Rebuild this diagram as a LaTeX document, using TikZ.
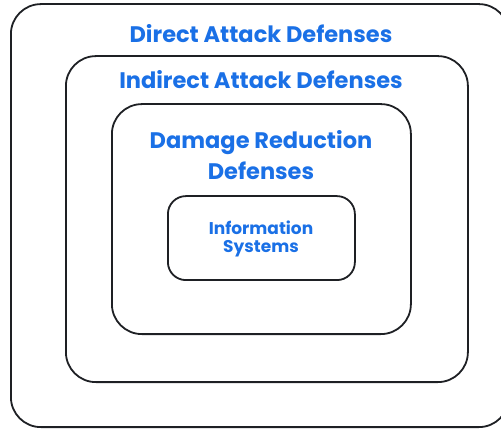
\documentclass[tikz,border=0pt]{standalone}
\usepackage{fontspec}
\setmainfont{Poppins}
\definecolor{labelblue}{RGB}{26,112,230}
\definecolor{frame}{RGB}{30,32,36}
\begin{document}
\begin{tikzpicture}[x=1pt,y=1pt,
  layer/.style={draw=frame, line width=1.8pt, rounded corners=#1},
  title/.style={text=labelblue, font=\bfseries\fontsize{22.5}{31}\selectfont, align=center, inner sep=0pt}]
\useasboundingbox (0,0) rectangle (501,429);
% nested defense layers, outermost first
\node[layer=30pt, minimum width=498pt, minimum height=423pt, anchor=south west] (direct) at (10,1) {};
\node[layer=30pt, minimum width=402pt, minimum height=326pt, anchor=south west] (indirect) at (65,46) {};
\node[layer=30pt, minimum width=299pt, minimum height=230pt, anchor=south west] (damage) at (111,94) {};
\node[layer=18pt, minimum width=187pt, minimum height=84pt, anchor=south west] (info) at (167,148) {};
% layer labels
\node[title] (directlbl) at (261,395) {Direct Attack Defenses};
\node[title] (indirectlbl) at (261,349) {Indirect Attack Defenses};
\node[title] (damagelbl) at (261,274) {Damage Reduction\\Defenses};
\node[title, font=\bfseries\fontsize{17}{18}\selectfont] (infolbl) at (261,190) {Information\\Systems};
\end{tikzpicture}
\end{document}
